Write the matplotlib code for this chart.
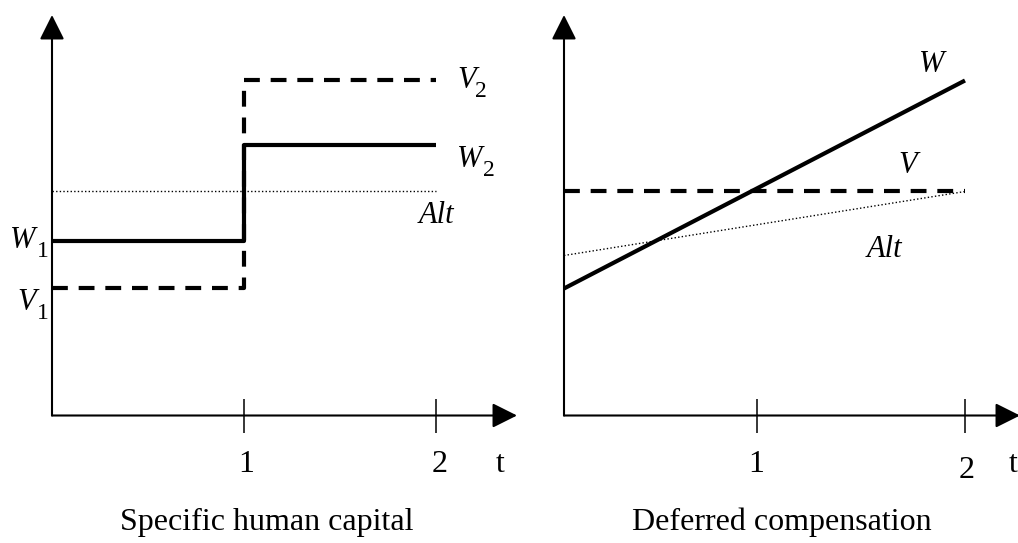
import matplotlib
matplotlib.use("Agg")
import matplotlib.pyplot as plt

plt.rcParams['font.family'] = ['Liberation Serif', 'DejaVu Serif']

# ---- data: left panel (specific human capital) ----
t_step = [0, 1, 1, 2]
V_left = [1.28, 1.28, 3.36, 3.36]
W_left = [1.75, 1.75, 2.71, 2.71]
alt_left_t = [0, 2]
alt_left = [2.24, 2.24]
left_ticks = [1, 2]
left_tick_labels = ['1', '2']

# ---- data: right panel (deferred compensation) ----
t_lin = [0, 2]
W_right = [1.27, 3.35]
V_right = [2.24, 2.24]
alt_right = [1.60, 2.24]
right_ticks = [0.963, 2]
right_tick_labels = ['1', '2']

captions = ['Specific human capital', 'Deferred compensation']

FW, FH = 1018, 543
fig = plt.figure(figsize=(FW / 100, FH / 100), dpi=100)


def fx(x):
    return x / FW


def fy(y):
    return 1 - y / FH


def make_axes(left_px, right_px, bottom_px, top_px, xmax, ymax):
    ax = fig.add_axes([fx(left_px), fy(bottom_px),
                       (right_px - left_px) / FW, (bottom_px - top_px) / FH])
    ax.set_xlim(0, xmax)
    ax.set_ylim(0, ymax)
    for s in ax.spines.values():
        s.set_visible(False)
    ax.set_yticks([])
    ax.patch.set_alpha(0)
    arrow = dict(arrowstyle='-|>', mutation_scale=38, lw=1.5, color='black',
                 shrinkA=0, shrinkB=0)
    ax.annotate('', xy=(1, 0), xytext=(0, 0), xycoords='axes fraction',
                arrowprops=arrow, annotation_clip=False)
    ax.annotate('', xy=(0, 1), xytext=(0, 0), xycoords='axes fraction',
                arrowprops=arrow, annotation_clip=False)
    ax.tick_params(axis='x', direction='inout', length=24.5, width=1.1,
                   labelbottom=False, color='black')
    return ax


dash = (3.8, 2.6)
lw_thick = 3.0

# Left panel
axL = make_axes(52, 517, 415.5, 15, 465 / 192, 4.005)
axL.set_xticks(left_ticks)
axL.plot(alt_left_t, alt_left, color='black', lw=1.0, ls=(0, (1, 1.6)))
axL.plot(t_step, W_left, color='black', lw=lw_thick, solid_capstyle='butt')
axL.plot(t_step, V_left, color='black', lw=lw_thick, dashes=dash,
         dash_capstyle='butt')

# Right panel
axR = make_axes(564, 1020, 415.5, 15, 456 / 200.5, 4.005)
axR.set_xticks(right_ticks)
axR.plot(t_lin, alt_right, color='black', lw=1.0, ls=(0, (1, 1.6)))
axR.plot(t_lin, V_right, color='black', lw=lw_thick, dashes=dash,
         dash_capstyle='butt')
axR.plot(t_lin, W_right, color='black', lw=lw_thick, solid_capstyle='butt')

FS = 23

# tick labels and t labels
for x, lab in zip([246, 440], left_tick_labels):
    fig.text(fx(x), fy(472), lab, ha='center', va='baseline', fontsize=FS)
fig.text(fx(500), fy(472), 't', ha='center', va='baseline', fontsize=FS)
fig.text(fx(756), fy(472), right_tick_labels[0], ha='center', va='baseline', fontsize=FS)
fig.text(fx(967), fy(478), right_tick_labels[1], ha='center', va='baseline', fontsize=FS)
fig.text(fx(1013), fy(472), 't', ha='center', va='baseline', fontsize=FS)

# series labels (italic letter with upright, lowered subscript)
ML = 22
SUB = 17


def label(x, y, main, sub=None, sub_x=None):
    fig.text(fx(x), fy(y), main, ha='left', va='baseline', fontsize=ML,
             fontstyle='italic')
    if sub is not None:
        fig.text(fx(sub_x), fy(y + 9), sub, ha='left', va='baseline',
                 fontsize=SUB)


label(457, 88, 'V', '2', 475)
label(457, 167, 'W', '2', 483)
label(419, 223, 'Alt')
label(10, 248, 'W', '1', 37)
label(17, 310, 'V', '1', 37)
label(919, 72, 'W')
label(898, 173, 'V')
label(867, 257, 'Alt')

# captions
fig.text(fx(267), fy(522), captions[0], ha='center', va='center', fontsize=FS)
fig.text(fx(782), fy(522), captions[1], ha='center', va='center', fontsize=FS)

fig.savefig('out.png', dpi=100)
